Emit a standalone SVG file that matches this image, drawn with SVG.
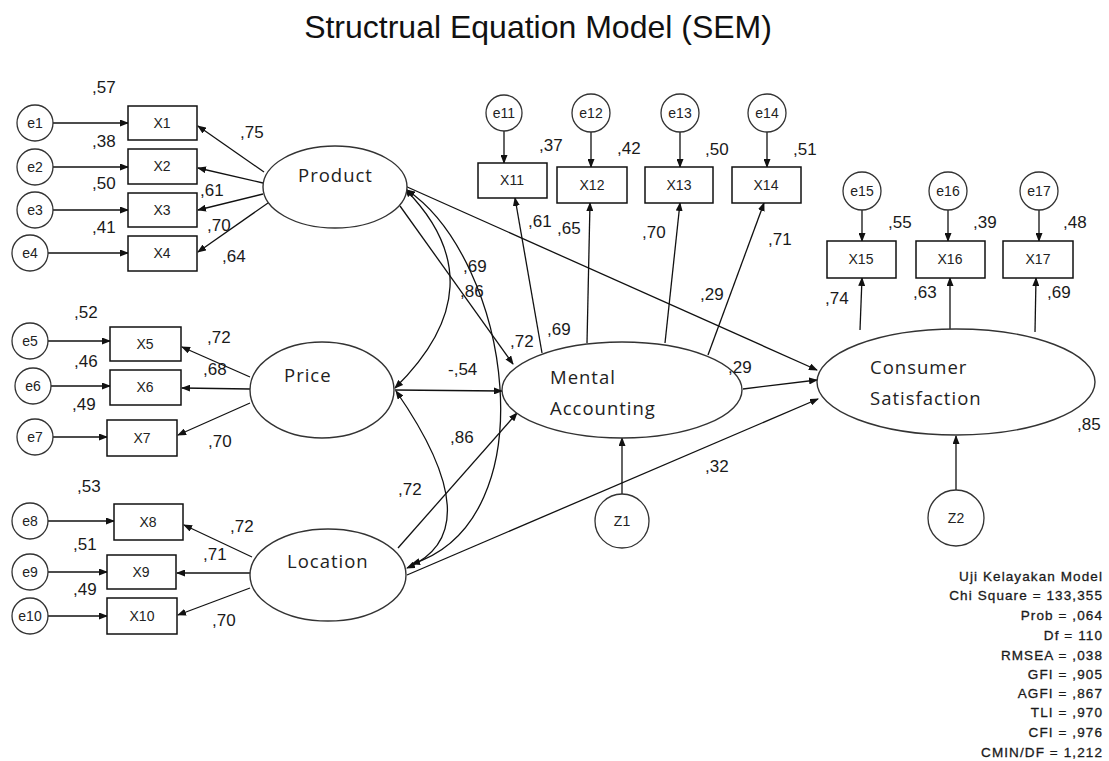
<svg xmlns="http://www.w3.org/2000/svg" width="1109" height="761" viewBox="0 0 1109 761">
<style>
.bg{fill:#fff}
.title{font-family:"Liberation Sans",Arial,sans-serif;font-size:32px;fill:#111;text-anchor:middle}
.lat{fill:#fff;stroke:#333;stroke-width:1.4}
.box{fill:#fff;stroke:#111;stroke-width:1.5}
.err{fill:#fff;stroke:#333;stroke-width:1.3}
.ln{font-family:"Open Sans","DejaVu Sans",sans-serif;font-size:18.5px;letter-spacing:1px;fill:#222}
.sm{font-family:"Liberation Sans",Arial,sans-serif;font-size:14px;fill:#222;text-anchor:middle}
.v{font-family:"Liberation Sans",Arial,sans-serif;font-size:17px;fill:#1a1a1a}
.fit{font-family:"Liberation Sans",Arial,sans-serif;font-size:13.5px;letter-spacing:1.1px;fill:#1a1a1a;stroke:#1a1a1a;stroke-width:0.3;text-anchor:end}
.c{fill:none;stroke:#111;stroke-width:1.3;marker-end:url(#ah)}
.cv{fill:none;stroke:#111;stroke-width:1.3;marker-end:url(#ah);marker-start:url(#ah)}
</style>
<defs>
<marker id="ah" markerWidth="9" markerHeight="7" refX="8" refY="3.5" orient="auto-start-reverse" markerUnits="userSpaceOnUse">
<path d="M0,0 L9,3.5 L0,7 z" fill="#111"/>
</marker>
</defs>
<rect class="bg" x="0" y="0" width="1109" height="761"/>
<text class="title" x="538" y="38">Structrual Equation Model (SEM)</text>

<g id="connectors">
<!-- error to indicators -->
<path class="c" d="M53,123 L128,123"/>
<path class="c" d="M53,167 L128,167"/>
<path class="c" d="M53,210 L128,210"/>
<path class="c" d="M48,253 L128,253"/>
<path class="c" d="M48,341 L110,341"/>
<path class="c" d="M51,386 L110,386"/>
<path class="c" d="M53,437 L107,437"/>
<path class="c" d="M48,521 L114,521"/>
<path class="c" d="M48,572 L107,572"/>
<path class="c" d="M48,616 L107,616"/>
<path class="c" d="M504,131 L504,163"/>
<path class="c" d="M591,132 L591,167"/>
<path class="c" d="M680,132 L680,167"/>
<path class="c" d="M767,132 L767,167"/>
<path class="c" d="M862,210 L862,241"/>
<path class="c" d="M948,210 L948,241"/>
<path class="c" d="M1039,210 L1039,241"/>
<!-- loadings -->
<path class="c" d="M264,172 L198,126"/>
<path class="c" d="M263,183 L198,168"/>
<path class="c" d="M263,194 L198,210"/>
<path class="c" d="M268,203 L198,252"/>
<path class="c" d="M250,377 L182,347"/>
<path class="c" d="M250,389 L182,388"/>
<path class="c" d="M250,403 L178,435"/>
<path class="c" d="M252,557 L184,525"/>
<path class="c" d="M250,573 L177,573"/>
<path class="c" d="M250,588 L178,615"/>
<path class="c" d="M542,353 L515,198"/>
<path class="c" d="M587,343 L590,203"/>
<path class="c" d="M665,343 L680,203"/>
<path class="c" d="M708,355 L764,203"/>
<path class="c" d="M860,330 L862,278"/>
<path class="c" d="M950,329 L950,278"/>
<path class="c" d="M1035,332 L1036,278"/>
<!-- structural -->
<path class="c" d="M405,186 L817,370"/>
<path class="c" d="M400,206 L513,364"/>
<path class="c" d="M395,390 L502,391"/>
<path class="c" d="M398,548 L517,413"/>
<path class="c" d="M407,575 L818,399"/>
<path class="c" d="M743,389 L817,380"/>
<path class="c" d="M622,494 L622,438"/>
<path class="c" d="M956,490 L956,436"/>
<!-- covariances -->
<path class="cv" d="M405,189 Q500,285 395,388"/>
<path class="cv" d="M407,190 C510,260 550,520 412,564"/>
<path class="cv" d="M396,391 Q493,531 407,568"/>
</g>

<g id="product"><ellipse class="lat" cx="335" cy="187" rx="72" ry="41"/><text class="ln" x="298" y="182">Product</text></g>
<g id="price"><ellipse class="lat" cx="322" cy="390" rx="72" ry="48"/><text class="ln" x="284" y="382">Price</text></g>
<g id="location"><ellipse class="lat" cx="328" cy="575" rx="78" ry="46"/><text class="ln" x="287" y="568">Location</text></g>
<g id="mental"><ellipse class="lat" cx="622" cy="390" rx="120" ry="48"/><text class="ln" x="550" y="384">Mental</text><text class="ln" x="550" y="415">Accounting</text></g>
<g id="consumer"><ellipse class="lat" cx="956" cy="382" rx="139" ry="53"/><text class="ln" x="870" y="374">Consumer</text><text class="ln" x="870" y="405">Satisfaction</text></g>
<g id="z1"><circle class="err" cx="622" cy="521" r="27"/><text class="sm" x="622" y="526">Z1</text></g>
<g id="z2"><circle class="err" cx="956" cy="518" r="28"/><text class="sm" x="956" y="523">Z2</text></g>

<g id="x1"><rect class="box" x="128" y="106" width="69" height="34"/><text class="sm" x="162" y="128">X1</text></g>
<g id="x2"><rect class="box" x="128" y="149" width="69" height="35"/><text class="sm" x="162" y="171">X2</text></g>
<g id="x3"><rect class="box" x="128" y="193" width="69" height="34"/><text class="sm" x="162" y="215">X3</text></g>
<g id="x4"><rect class="box" x="128" y="236" width="69" height="35"/><text class="sm" x="162" y="258">X4</text></g>
<g id="x5"><rect class="box" x="110" y="327" width="71" height="34"/><text class="sm" x="145" y="349">X5</text></g>
<g id="x6"><rect class="box" x="110" y="370" width="71" height="35"/><text class="sm" x="145" y="392">X6</text></g>
<g id="x7"><rect class="box" x="107" y="420" width="70" height="36"/><text class="sm" x="142" y="443">X7</text></g>
<g id="x8"><rect class="box" x="114" y="504" width="69" height="36"/><text class="sm" x="148" y="527">X8</text></g>
<g id="x9"><rect class="box" x="107" y="555" width="69" height="34"/><text class="sm" x="141" y="577">X9</text></g>
<g id="x10"><rect class="box" x="107" y="598" width="70" height="36"/><text class="sm" x="142" y="621">X10</text></g>
<g id="x11"><rect class="box" x="478" y="163" width="69" height="35"/><text class="sm" x="512" y="185">X11</text></g>
<g id="x12"><rect class="box" x="557" y="167" width="70" height="36"/><text class="sm" x="592" y="190">X12</text></g>
<g id="x13"><rect class="box" x="645" y="167" width="68" height="36"/><text class="sm" x="679" y="190">X13</text></g>
<g id="x14"><rect class="box" x="732" y="167" width="69" height="36"/><text class="sm" x="766" y="190">X14</text></g>
<g id="x15"><rect class="box" x="827" y="241" width="69" height="37"/><text class="sm" x="861" y="264">X15</text></g>
<g id="x16"><rect class="box" x="916" y="241" width="69" height="37"/><text class="sm" x="950" y="264">X16</text></g>
<g id="x17"><rect class="box" x="1003" y="241" width="70" height="37"/><text class="sm" x="1038" y="264">X17</text></g>

<g id="e1"><circle class="err" cx="35" cy="123" r="18"/><text class="sm" x="35" y="128">e1</text></g>
<g id="e2"><circle class="err" cx="35" cy="167" r="18"/><text class="sm" x="35" y="172">e2</text></g>
<g id="e3"><circle class="err" cx="35" cy="210" r="18"/><text class="sm" x="35" y="215">e3</text></g>
<g id="e4"><circle class="err" cx="30" cy="253" r="18"/><text class="sm" x="30" y="258">e4</text></g>
<g id="e5"><circle class="err" cx="30" cy="341" r="18"/><text class="sm" x="30" y="346">e5</text></g>
<g id="e6"><circle class="err" cx="33" cy="386" r="18"/><text class="sm" x="33" y="391">e6</text></g>
<g id="e7"><circle class="err" cx="35" cy="437" r="18"/><text class="sm" x="35" y="442">e7</text></g>
<g id="e8"><circle class="err" cx="30" cy="521" r="18"/><text class="sm" x="30" y="526">e8</text></g>
<g id="e9"><circle class="err" cx="30" cy="572" r="18"/><text class="sm" x="30" y="577">e9</text></g>
<g id="e10"><circle class="err" cx="30" cy="616" r="18"/><text class="sm" x="30" y="621">e10</text></g>
<g id="e11"><circle class="err" cx="504" cy="113" r="18"/><text class="sm" x="504" y="118">e11</text></g>
<g id="e12"><circle class="err" cx="591" cy="113" r="19"/><text class="sm" x="591" y="118">e12</text></g>
<g id="e13"><circle class="err" cx="680" cy="113" r="19"/><text class="sm" x="680" y="118">e13</text></g>
<g id="e14"><circle class="err" cx="767" cy="113" r="19"/><text class="sm" x="767" y="118">e14</text></g>
<g id="e15"><circle class="err" cx="862" cy="191" r="19"/><text class="sm" x="862" y="196">e15</text></g>
<g id="e16"><circle class="err" cx="948" cy="191" r="19"/><text class="sm" x="948" y="196">e16</text></g>
<g id="e17"><circle class="err" cx="1039" cy="191" r="19"/><text class="sm" x="1039" y="196">e17</text></g>

<g id="values">
<text class="v" x="92" y="93">,57</text>
<text class="v" x="92" y="147">,38</text>
<text class="v" x="92" y="189">,50</text>
<text class="v" x="92" y="233">,41</text>
<text class="v" x="240" y="138">,75</text>
<text class="v" x="200" y="196">,61</text>
<text class="v" x="207" y="231">,70</text>
<text class="v" x="222" y="262">,64</text>
<text class="v" x="74" y="318">,52</text>
<text class="v" x="74" y="367">,46</text>
<text class="v" x="72" y="410">,49</text>
<text class="v" x="207" y="343">,72</text>
<text class="v" x="203" y="375">,68</text>
<text class="v" x="208" y="447">,70</text>
<text class="v" x="77" y="492">,53</text>
<text class="v" x="73" y="550">,51</text>
<text class="v" x="73" y="595">,49</text>
<text class="v" x="230" y="532">,72</text>
<text class="v" x="203" y="560">,71</text>
<text class="v" x="212" y="626">,70</text>
<text class="v" x="539" y="151">,37</text>
<text class="v" x="617" y="154">,42</text>
<text class="v" x="705" y="155">,50</text>
<text class="v" x="793" y="155">,51</text>
<text class="v" x="528" y="227">,61</text>
<text class="v" x="557" y="234">,65</text>
<text class="v" x="642" y="238">,70</text>
<text class="v" x="768" y="245">,71</text>
<text class="v" x="888" y="228">,55</text>
<text class="v" x="973" y="228">,39</text>
<text class="v" x="1063" y="228">,48</text>
<text class="v" x="825" y="304">,74</text>
<text class="v" x="913" y="298">,63</text>
<text class="v" x="1047" y="298">,69</text>
<text class="v" x="1077" y="430">,85</text>
<text class="v" x="463" y="272">,69</text>
<text class="v" x="460" y="297">,86</text>
<text class="v" x="510" y="347">,72</text>
<text class="v" x="547" y="335">,69</text>
<text class="v" x="700" y="300">,29</text>
<text class="v" x="728" y="373">,29</text>
<text class="v" x="448" y="375">-,54</text>
<text class="v" x="450" y="443">,86</text>
<text class="v" x="398" y="495">,72</text>
<text class="v" x="705" y="472">,32</text>
</g>

<g id="fit">
<text class="fit" x="1103" y="581">Uji Kelayakan Model</text>
<text class="fit" x="1103" y="600">Chi Square = 133,355</text>
<text class="fit" x="1103" y="620">Prob = ,064</text>
<text class="fit" x="1103" y="640">Df = 110</text>
<text class="fit" x="1103" y="660">RMSEA = ,038</text>
<text class="fit" x="1103" y="679">GFI = ,905</text>
<text class="fit" x="1103" y="698">AGFI = ,867</text>
<text class="fit" x="1103" y="717">TLI = ,970</text>
<text class="fit" x="1103" y="737">CFI = ,976</text>
<text class="fit" x="1103" y="757">CMIN/DF = 1,212</text>
</g>
</svg>
